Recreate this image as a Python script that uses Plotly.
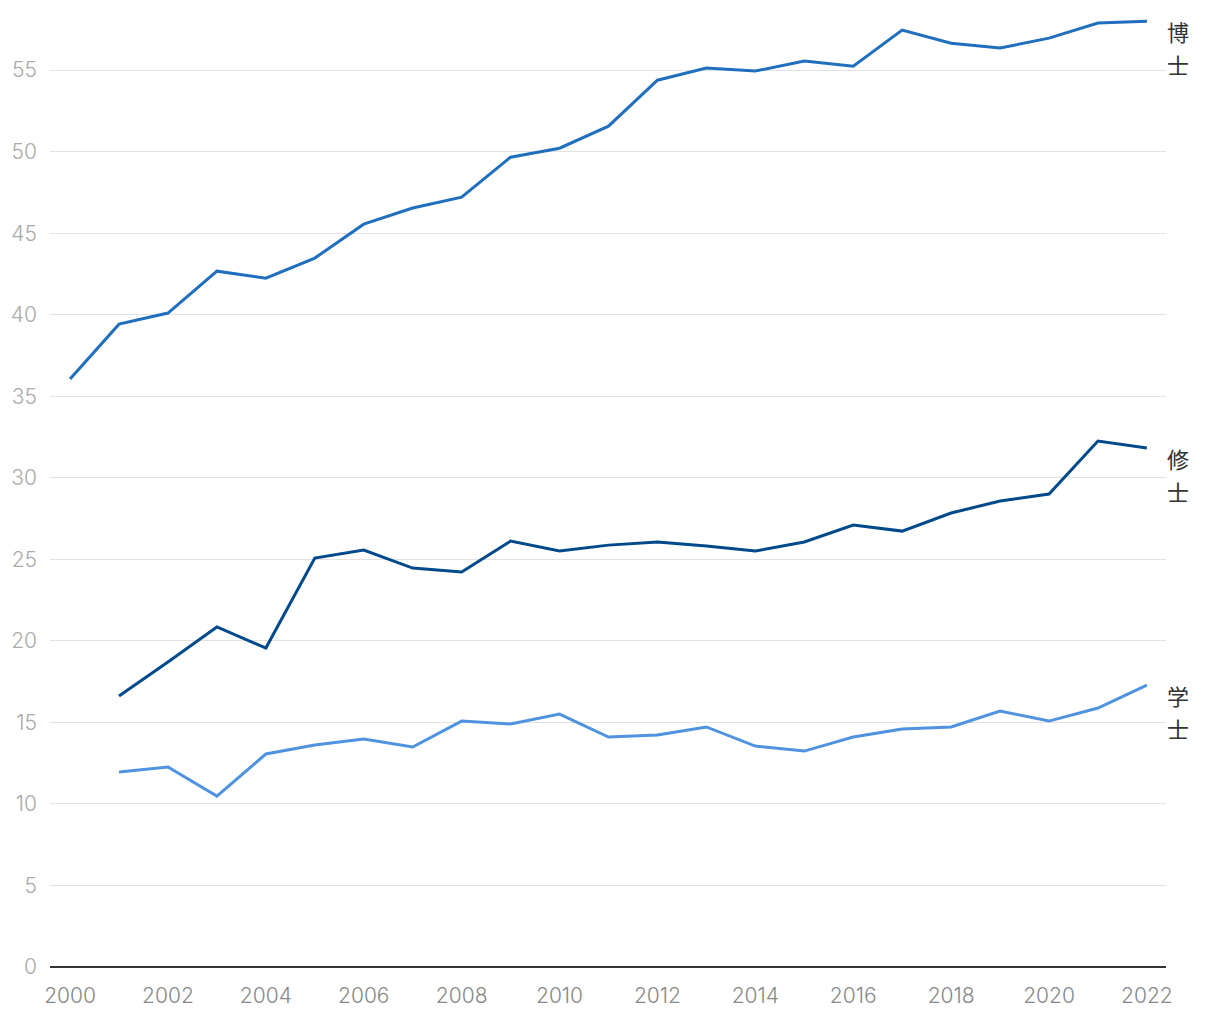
import plotly.graph_objects as go

years_doc = list(range(2000, 2023))
years = list(range(2001, 2023))

doctor = [36.05, 39.42, 40.1, 42.67, 42.24, 43.47, 45.55, 46.54, 47.21, 49.66, 50.21,
          51.56, 54.38, 55.12, 54.94, 55.55, 55.24, 57.45, 56.65, 56.35, 56.96, 57.88, 58.0]
master = [16.62, 18.7, 20.85, 19.56, 25.08, 25.57, 24.46, 24.22, 26.12, 25.51, 25.87,
          26.06, 25.81, 25.51, 26.06, 27.1, 26.73, 27.84, 28.57, 29.0, 32.25, 31.82]
bachelor = [11.96, 12.26, 10.48, 13.06, 13.61, 13.98, 13.49, 15.08, 14.9, 15.51, 14.1,
            14.22, 14.72, 13.55, 13.24, 14.1, 14.59, 14.72, 15.7, 15.08, 15.88, 17.29]

series = [
    ("博士", years_doc, doctor, "#1f6fbe"),
    ("修士", years, master, "#004a8c"),
    ("学士", years, bachelor, "#4f92e0"),
]

cjk_font = "Noto Sans CJK JP, Noto Sans, sans-serif"
tick_font = "Inter, Noto Sans, sans-serif"

fig = go.Figure()
annotations = []
for name, xs, ys, color in series:
    fig.add_trace(go.Scatter(x=xs, y=ys, mode="lines", name=name,
                             line=dict(color=color, width=3), showlegend=False))
    for i, ch in enumerate(name):
        annotations.append(dict(
            x=xs[-1], y=ys[-1], xref="x", yref="y", text=ch, showarrow=False,
            xanchor="center", yanchor="middle", xshift=31, yshift=-10 - 33 * i,
            font=dict(size=22, color="#333333", family=cjk_font)))

fig.update_layout(
    width=1220, height=1020,
    margin=dict(l=50, r=54, t=13, b=53),
    plot_bgcolor="white", paper_bgcolor="white",
    font=dict(family=tick_font),
    annotations=annotations,
    xaxis=dict(range=[1999.59, 2022.39], tickmode="array",
               tickvals=list(range(2000, 2023, 2)),
               ticktext=[str(y) for y in range(2000, 2023, 2)],
               showgrid=False, zeroline=False, showline=False,
               ticks="", ticklabelstandoff=14,
               tickfont=dict(size=21, color="#888888", family=tick_font, weight=300)),
    yaxis=dict(range=[0, 58.5], tickmode="array", tickvals=list(range(0, 60, 5)),
               showgrid=True, gridcolor="#e2e2e2", gridwidth=1,
               zeroline=True, zerolinecolor="#333333", zerolinewidth=2,
               showline=False, ticks="", ticklabelstandoff=12,
               tickfont=dict(size=21, color="#aaaaaa", family=tick_font, weight=300)),
)

fig.write_html("out.html")
